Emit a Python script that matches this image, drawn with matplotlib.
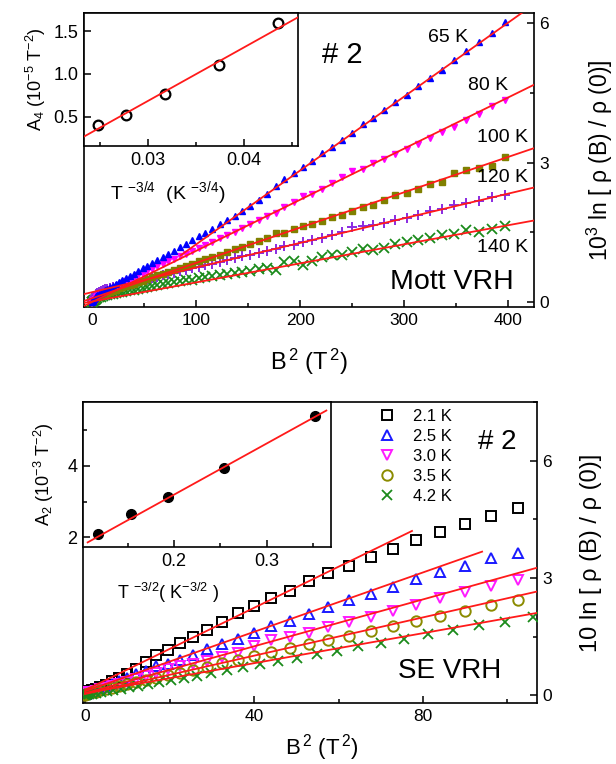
import matplotlib
matplotlib.use('Agg')
import matplotlib.pyplot as plt
from matplotlib.ticker import MultipleLocator, NullLocator, FormatStrFormatter
import numpy as np

plt.rcParams['font.family'] = ['Liberation Sans', 'DejaVu Sans']
plt.rcParams['mathtext.fontset'] = 'custom'
plt.rcParams['mathtext.rm'] = 'Liberation Sans'
plt.rcParams['mathtext.it'] = 'Liberation Sans:italic'
plt.rcParams['mathtext.bf'] = 'Liberation Sans:bold'
plt.rcParams['mathtext.default'] = 'regular'

# ---------------- Top panel (Mott VRH) ----------------
mott_labels = ['65 K', '80 K', '100 K', '120 K', '140 K']
b2_mott = [0, 0.1, 0.4, 0.9, 1.6, 2.5, 3.6, 4.9, 6.4, 8.1, 10.0, 12.1, 14.4, 16.9, 19.6,
           22.5, 25.6, 28.9, 32.4, 36.1, 40.0, 44.1, 48.4, 52.9, 57.6, 62.5, 67.6, 72.9,
           78.4, 84.1, 90.0, 96.1, 102.4, 108.9, 115.6, 122.5, 129.6, 136.9, 144.4, 152.1,
           160.0, 168.1, 176.4, 184.9, 193.6, 202.5, 211.6, 220.9, 230.4, 240.1, 250.0,
           260.1, 270.4, 280.9, 291.6, 302.5, 313.6, 324.9, 336.4, 348.1, 360.0, 372.1,
           384.4, 396.9]
y_65 = [0.00, 0.01, 0.02, 0.04, 0.06, 0.09, 0.12, 0.14, 0.17, 0.20, 0.22, 0.25, 0.28, 0.32,
        0.35, 0.39, 0.43, 0.47, 0.52, 0.56, 0.61, 0.66, 0.72, 0.78, 0.84, 0.90, 0.96, 1.03,
        1.10, 1.18, 1.25, 1.33, 1.41, 1.49, 1.58, 1.67, 1.76, 1.85, 1.95, 2.07, 2.19, 2.32,
        2.49, 2.64, 2.78, 2.91, 3.04, 3.20, 3.34, 3.48, 3.64, 3.82, 3.95, 4.14, 4.31, 4.45,
        4.65, 4.83, 5.00, 5.20, 5.40, 5.60, 5.79, 6.03]
y_80 = [0.00, 0.00, 0.01, 0.03, 0.05, 0.07, 0.10, 0.12, 0.14, 0.16, 0.19, 0.21, 0.24, 0.27,
        0.30, 0.33, 0.36, 0.40, 0.44, 0.48, 0.52, 0.57, 0.61, 0.66, 0.71, 0.77, 0.81, 0.87,
        0.92, 0.98, 1.04, 1.10, 1.16, 1.23, 1.30, 1.37, 1.44, 1.51, 1.59, 1.67, 1.76, 1.85,
        1.92, 2.05, 2.14, 2.27, 2.32, 2.42, 2.57, 2.69, 2.82, 2.87, 2.98, 3.07, 3.18, 3.30,
        3.41, 3.52, 3.65, 3.77, 3.91, 4.04, 4.22, 4.34]
y_100 = [0.00, 0.00, 0.01, 0.03, 0.05, 0.07, 0.09, 0.11, 0.13, 0.15, 0.16, 0.18, 0.20, 0.22,
         0.24, 0.26, 0.29, 0.31, 0.34, 0.36, 0.39, 0.43, 0.46, 0.49, 0.53, 0.57, 0.60, 0.64,
         0.69, 0.73, 0.77, 0.82, 0.87, 0.92, 0.97, 1.02, 1.08, 1.13, 1.19, 1.25, 1.31, 1.37,
         1.48, 1.49, 1.58, 1.63, 1.68, 1.75, 1.82, 1.87, 1.96, 2.04, 2.09, 2.19, 2.30, 2.35,
         2.42, 2.54, 2.59, 2.78, 2.84, 2.89, 2.93, 3.12]
y_120 = [0.00, 0.01, 0.03, 0.06, 0.10, 0.13, 0.17, 0.19, 0.22, 0.24, 0.26, 0.27, 0.28, 0.30,
         0.31, 0.33, 0.35, 0.36, 0.38, 0.40, 0.42, 0.44, 0.47, 0.49, 0.52, 0.54, 0.57, 0.60,
         0.63, 0.66, 0.69, 0.72, 0.75, 0.79, 0.82, 0.86, 0.90, 0.94, 0.98, 1.02, 1.06, 1.10,
         1.14, 1.20, 1.22, 1.30, 1.33, 1.37, 1.45, 1.50, 1.62, 1.63, 1.66, 1.70, 1.77, 1.80,
         1.87, 1.95, 1.99, 2.09, 2.12, 2.17, 2.26, 2.31]
y_140 = [0.00, 0.00, 0.01, 0.02, 0.03, 0.05, 0.07, 0.08, 0.10, 0.11, 0.13, 0.14, 0.15, 0.17,
         0.18, 0.19, 0.21, 0.22, 0.23, 0.25, 0.26, 0.28, 0.30, 0.32, 0.34, 0.36, 0.38, 0.40,
         0.42, 0.45, 0.47, 0.48, 0.51, 0.53, 0.55, 0.57, 0.60, 0.62, 0.65, 0.67, 0.71, 0.73,
         0.69, 0.85, 0.87, 0.80, 0.89, 0.96, 1.01, 1.01, 1.07, 1.14, 1.12, 1.15, 1.25, 1.30,
         1.33, 1.37, 1.43, 1.46, 1.55, 1.51, 1.58, 1.64]
mott_fit_slope = [0.0159, 0.0110, 0.0076, 0.0053, 0.0041]
mott_fit_icpt = [-0.35, 0.0, 0.08, 0.21, 0.01]
mott_fit_start = [85, -8, -8, -8, -8]
mott_fit_end = [430, 430, 430, 430, 430]

# inset (top): A4 vs T^-3/4
t34 = [0.0248, 0.0277, 0.0317, 0.0374, 0.0435]
a4 = [0.40, 0.52, 0.77, 1.10, 1.59]
a4_fit_x = [0.0233, 0.0456]
a4_fit_y = [0.27, 1.66]

# ---------------- Bottom panel (SE VRH) ----------------
se_labels = ['2.1 K', '2.5 K', '3.0 K', '3.5 K', '4.2 K']
b2_se = [0, 0.1, 0.4, 0.9, 1.6, 2.5, 3.6, 4.9, 6.4, 8.1, 10.0, 12.1, 14.4, 16.9, 19.6, 22.5,
         25.6, 28.9, 32.4, 36.1, 40.0, 44.1, 48.4, 52.9, 57.6, 62.5, 67.6, 72.9, 78.4, 84.1,
         90.0, 96.1, 102.4]
b2_se_42 = [0, 0.1, 0.4, 0.9, 1.7, 2.6, 3.7, 5.1, 6.6, 8.4, 10.4, 12.5, 14.9, 17.5, 20.3,
            23.3, 26.5, 29.9, 33.5, 37.4, 41.4, 45.6, 50.1, 54.8, 59.6, 64.7, 70.0, 75.5,
            81.1, 87.0, 93.2, 99.5, 106.0]
y_21 = [0.03, 0.05, 0.07, 0.10, 0.13, 0.17, 0.21, 0.27, 0.36, 0.44, 0.55, 0.68, 0.84, 1.03,
        1.15, 1.34, 1.50, 1.68, 1.87, 2.09, 2.28, 2.48, 2.66, 2.91, 3.12, 3.31, 3.53, 3.74,
        3.96, 4.17, 4.38, 4.59, 4.79]
y_25 = [0.02, 0.04, 0.06, 0.08, 0.11, 0.14, 0.18, 0.23, 0.29, 0.36, 0.44, 0.53, 0.62, 0.74,
        0.81, 0.90, 1.04, 1.17, 1.31, 1.43, 1.60, 1.76, 1.90, 2.07, 2.25, 2.44, 2.59, 2.78,
        2.97, 3.14, 3.31, 3.51, 3.65]
y_30 = [0.02, 0.03, 0.05, 0.07, 0.09, 0.11, 0.15, 0.19, 0.24, 0.29, 0.35, 0.42, 0.49, 0.57,
        0.66, 0.74, 0.80, 0.87, 0.98, 1.09, 1.25, 1.40, 1.50, 1.60, 1.75, 1.86, 2.01, 2.16,
        2.31, 2.48, 2.65, 2.79, 2.95]
y_35 = [0.01, 0.02, 0.03, 0.05, 0.07, 0.09, 0.12, 0.15, 0.19, 0.23, 0.28, 0.33, 0.38, 0.44,
        0.51, 0.58, 0.65, 0.73, 0.82, 0.91, 1.01, 1.11, 1.21, 1.30, 1.40, 1.52, 1.65, 1.77,
        1.90, 2.03, 2.16, 2.31, 2.44]
y_42 = [0.01, 0.01, 0.02, 0.03, 0.04, 0.06, 0.08, 0.10, 0.13, 0.16, 0.20, 0.24, 0.28, 0.33,
        0.38, 0.44, 0.50, 0.57, 0.64, 0.71, 0.79, 0.87, 0.96, 1.05, 1.13, 1.26, 1.34, 1.45,
        1.56, 1.67, 1.79, 1.88, 2.01]
se_fit_slope = [0.0526, 0.038, 0.030, 0.0245, 0.0192]
se_fit_icpt = [0.13, 0.10, 0.05, 0.03, 0.05]
se_fit_start = [0, 0, 0, 0, 0]
se_fit_end = [77.4, 94, 108, 108, 108]

# inset (bottom): A2 vs T^-3/2
t32 = [0.118, 0.154, 0.194, 0.254, 0.352]
a2 = [2.08, 2.64, 3.13, 3.94, 5.42]
a2_fit_x = [0.107, 0.364]
a2_fit_y = [1.85, 5.56]

# ---------------- figure ----------------
W, H = 616, 764
fig = plt.figure(figsize=(W / 100, H / 100), dpi=100)


def rect(l, t, r, b):
    return [l / W, 1 - b / H, (r - l) / W, (b - t) / H]


RED = '#ff1a1a'
FS_TICK = 12.5
FS_TICK_IN = 13


def style_main(ax):
    for s in ax.spines.values():
        s.set_linewidth(1.2)
    ax.yaxis.tick_right()
    ax.yaxis.set_label_position('right')
    ax.tick_params(which='both', direction='in', left=False, top=False, right=True,
                   bottom=True, labelsize=FS_TICK, width=1.1)
    ax.tick_params(which='major', length=5, pad=4)
    ax.tick_params(which='minor', length=3)


def style_inset(ax):
    for s in ax.spines.values():
        s.set_linewidth(1.2)
    ax.tick_params(which='both', direction='in', left=True, top=False, right=False,
                   bottom=True, labelsize=FS_TICK_IN, width=1.1)
    ax.tick_params(which='major', length=5, pad=4)
    ax.tick_params(which='minor', length=3)


# --- top main ---
ax1 = fig.add_axes(rect(84, 13, 534, 307))
style_main(ax1)
mott_y = [y_65, y_80, y_100, y_120, y_140]
mott_mk = [('^', '#0000ff', 4.8, 1.0), ('v', '#ff00ff', 4.8, 1.0),
           ('s', '#808000', 4.6, 1.0), ('+', '#8a2be2', 7.5, 1.4),
           ('x', '#1a8a1a', 6.5, 1.3)]
for ys, (m, c, ms, mew) in zip(mott_y[::-1], mott_mk[::-1]):
    ax1.plot(b2_mott, ys, linestyle='none', marker=m, color=c, markersize=ms,
             markeredgewidth=mew, zorder=3)
for s, i, x0, x1 in zip(mott_fit_slope, mott_fit_icpt, mott_fit_start, mott_fit_end):
    xs = np.array([x0, x1], dtype=float)
    ax1.plot(xs, s * xs + i, color=RED, lw=1.3, zorder=4)
ax1.set_xlim(-8, 425)
ax1.set_ylim(-0.11, 6.22)
ax1.xaxis.set_major_locator(MultipleLocator(100))
ax1.xaxis.set_minor_locator(MultipleLocator(50))
ax1.yaxis.set_major_locator(MultipleLocator(3))
ax1.yaxis.set_minor_locator(MultipleLocator(1.5))
ax1.set_xlabel('B$^{\\,2}$ (T$^{\\,2}$)', fontsize=17, labelpad=14)
ax1.set_ylabel('10$^{3}$ ln [ ρ (B) / ρ (0)]', fontsize=16.5, labelpad=26)

ax1.text(0.573, 0.857, '# 2', transform=ax1.transAxes, fontsize=21, ha='center', va='center')
ax1.text(0.809, 0.918, mott_labels[0], transform=ax1.transAxes, fontsize=14, ha='center', va='center')
ax1.text(0.899, 0.755, mott_labels[1], transform=ax1.transAxes, fontsize=14, ha='center', va='center')
ax1.text(0.986, 0.575, mott_labels[2], transform=ax1.transAxes, fontsize=14, ha='right', va='center')
ax1.text(0.986, 0.439, mott_labels[3], transform=ax1.transAxes, fontsize=14, ha='right', va='center')
ax1.text(0.986, 0.204, mott_labels[4], transform=ax1.transAxes, fontsize=14, ha='right', va='center')
ax1.text(0.818, 0.085, 'Mott VRH', transform=ax1.transAxes, fontsize=20.5, ha='center', va='center')

# --- top inset ---
in1 = fig.add_axes(rect(84, 13, 298, 146))
in1.set_facecolor('white')
style_inset(in1)
in1.plot(t34, a4, linestyle='none', marker='o', markersize=7, mfc='none', mec='black',
         mew=1.6, zorder=3)
in1.plot(a4_fit_x, a4_fit_y, color=RED, lw=1.3, zorder=4)
in1.set_xlim(0.0233, 0.0456)
in1.set_ylim(0.16, 1.71)
in1.xaxis.set_major_locator(MultipleLocator(0.01))
in1.xaxis.set_minor_locator(MultipleLocator(0.005))
in1.yaxis.set_major_locator(MultipleLocator(0.5))
in1.yaxis.set_minor_locator(NullLocator())
in1.xaxis.set_major_formatter(FormatStrFormatter('%.2f'))
in1.yaxis.set_major_formatter(FormatStrFormatter('%.1f'))
in1.set_ylabel('A$_{4}$ (10$^{-5}$ T$^{-2}$)', fontsize=13, labelpad=4)
in1.text(0.393, -0.353, 'T $^{-3/4}$  (K $^{-3/4}$)', transform=in1.transAxes,
         fontsize=14, ha='center', va='center')

# --- bottom main ---
ax2 = fig.add_axes(rect(83, 402, 537, 703))
style_main(ax2)
se_x = [b2_se, b2_se, b2_se, b2_se, b2_se_42]
se_y = [y_21, y_25, y_30, y_35, y_42]
se_mk = [('s', 'black', 6.5), ('^', '#1a1aff', 7), ('v', '#ff1aff', 7),
         ('o', '#8b8b00', 7.5), ('x', '#1a8a1a', 7)]
handles = []
for xs_, ys, (m, c, ms), lab in zip(se_x, se_y, se_mk, se_labels):
    if m == 'x':
        h, = ax2.plot(xs_, ys, linestyle='none', marker=m, color=c, markersize=ms,
                      mew=1.3, label=lab, zorder=3)
    else:
        h, = ax2.plot(xs_, ys, linestyle='none', marker=m, mfc='none', mec=c,
                      markersize=ms, mew=1.4, label=lab, zorder=3)
    handles.append(h)
for s, i, x0, x1 in zip(se_fit_slope, se_fit_icpt, se_fit_start, se_fit_end):
    xs = np.array([x0, x1], dtype=float)
    ax2.plot(xs, s * xs + i, color=RED, lw=1.3, zorder=4)
ax2.set_xlim(-0.5, 107)
ax2.set_ylim(-0.2, 7.5)
ax2.xaxis.set_major_locator(MultipleLocator(40))
ax2.xaxis.set_minor_locator(MultipleLocator(20))
ax2.yaxis.set_major_locator(MultipleLocator(3))
ax2.yaxis.set_minor_locator(MultipleLocator(1.5))
ax2.set_xlabel('B$^{\\,2}$ (T$^{\\,2}$)', fontsize=16)
ax2.xaxis.set_label_coords(0.525, -0.098)
ax2.set_ylabel('10 ln [ ρ (B) / ρ (0)]', fontsize=17, labelpad=20)
ax2.text(0.912, 0.867, '# 2', transform=ax2.transAxes, fontsize=20, ha='center', va='center')
ax2.text(0.808, 0.106, 'SE VRH', transform=ax2.transAxes, fontsize=20, ha='center', va='center')
leg = ax2.legend(handles=handles, loc='upper left', bbox_to_anchor=(0.625, 1.017),
                 frameon=False, fontsize=12, handlelength=1.0, handletextpad=1.1,
                 labelspacing=0.3, borderaxespad=0.3, numpoints=1)

# --- bottom inset ---
in2 = fig.add_axes(rect(83, 402, 331, 547))
in2.set_facecolor('white')
style_inset(in2)
in2.plot(t32, a2, linestyle='none', marker='o', markersize=7, color='black', zorder=3)
in2.plot(a2_fit_x, a2_fit_y, color=RED, lw=1.3, zorder=4)
in2.set_xlim(0.102, 0.369)
in2.set_ylim(1.72, 5.80)
in2.xaxis.set_major_locator(MultipleLocator(0.1))
in2.xaxis.set_minor_locator(MultipleLocator(0.05))
in2.yaxis.set_major_locator(MultipleLocator(2))
in2.yaxis.set_minor_locator(MultipleLocator(1))
in2.xaxis.set_major_formatter(FormatStrFormatter('%.1f'))
in2.set_ylabel('A$_{2}$ (10$^{-3}$ T$^{-2}$)', fontsize=13, labelpad=8)
in2.text(0.343, -0.317, 'T $^{-3/2}$( K$^{-3/2}$ )', transform=in2.transAxes,
         fontsize=13, ha='center', va='center')

fig.savefig('out.png', dpi=100)
